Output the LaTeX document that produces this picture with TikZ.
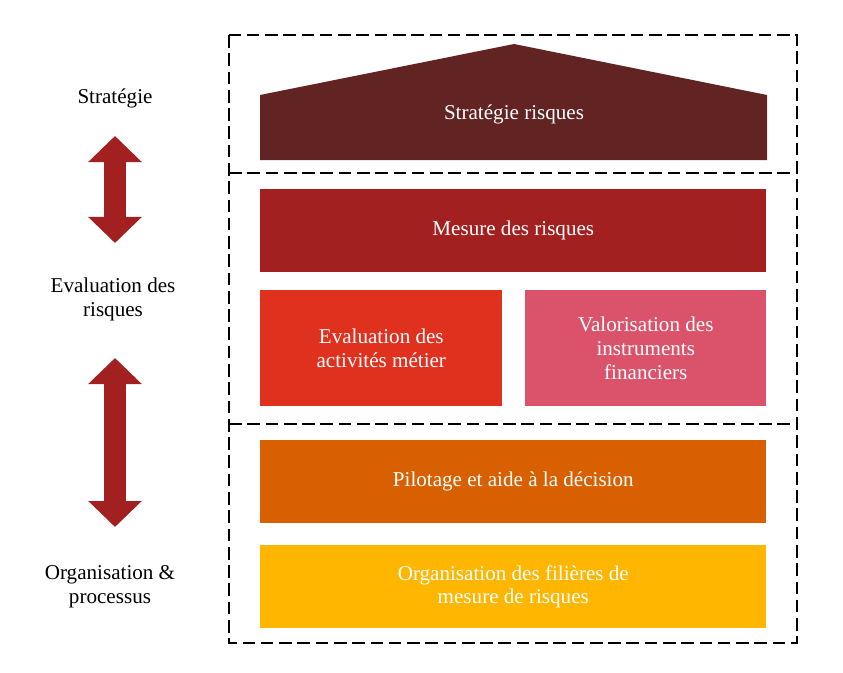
\documentclass[tikz,border=0pt]{standalone}
\usepackage{fontspec}
\setmainfont{Liberation Serif}
\usetikzlibrary{arrows.meta}
\definecolor{brun}{HTML}{622423}
\definecolor{rouge}{HTML}{A32020}
\definecolor{orangerouge}{HTML}{E0301E}
\definecolor{rose}{HTML}{DB536A}
\definecolor{orange}{HTML}{D86000}
\definecolor{jaune}{HTML}{FFB600}
\tikzset{bloc/.style={draw=none,text=white,align=center,anchor=north west,
                      inner sep=0pt,font=\fontsize{15}{17}\selectfont}}
\tikzset{etiquette/.style={align=center,font=\fontsize{15}{17}\selectfont}}
\tikzset{fleche/.style={rouge,line width=0.55cm,
                        {Triangle[length=0.65cm,width=1.3cm]}-{Triangle[length=0.65cm,width=1.3cm]}}}
\begin{document}
\begin{tikzpicture}[x=0.025cm,y=-0.025cm]
  \useasboundingbox (0,0) rectangle (843,672);
  % cadre en pointilles
  \draw[dashed,line width=1.5pt,dash pattern=on 9pt off 4pt] (229,35) rectangle (797,643);
  \draw[dashed,line width=1.5pt,dash pattern=on 9pt off 4pt] (229,173) -- (797,173);
  \draw[dashed,line width=1.5pt,dash pattern=on 9pt off 4pt] (229,424) -- (797,424);
  % toit
  \fill[brun] (260,95) -- (514,44) -- (767,95) -- (767,160) -- (260,160) -- cycle;
  \node (strat_r) [bloc,anchor=center] at (514,114) {Stratégie risques};
  % blocs
  \node (mesure) [bloc,fill=rouge,minimum width=506*0.025cm,minimum height=83*0.025cm] at (260,189) {Mesure des risques};
  \node (eval_act) [bloc,fill=orangerouge,minimum width=242*0.025cm,minimum height=116*0.025cm] at (260,290) {Evaluation des\\activités métier};
  \node (valo) [bloc,fill=rose,minimum width=241*0.025cm,minimum height=116*0.025cm] at (525,290) {Valorisation des\\instruments\\financiers};
  \node (pilot) [bloc,fill=orange,minimum width=506*0.025cm,minimum height=83*0.025cm] at (260,440) {Pilotage et aide à la décision};
  \node (orga) [bloc,fill=jaune,minimum width=506*0.025cm,minimum height=83*0.025cm] at (260,545) {Organisation des filières de\\mesure de risques};
  % etiquettes a gauche
  \node (l_strat) [etiquette] at (115,98) {Stratégie};
  \node (l_eval) [etiquette] at (113,299) {Evaluation des\\risques};
  \node (l_orga) [etiquette] at (110,587) {Organisation \&\\processus};
  % fleches
  \coordinate (f1a) at (115,136);
  \coordinate (f1b) at (115,243);
  \coordinate (f2a) at (115,358);
  \coordinate (f2b) at (115,527);
  \draw[fleche] (f1a) -- (f1b);
  \draw[fleche] (f2a) -- (f2b);
\end{tikzpicture}
\end{document}
